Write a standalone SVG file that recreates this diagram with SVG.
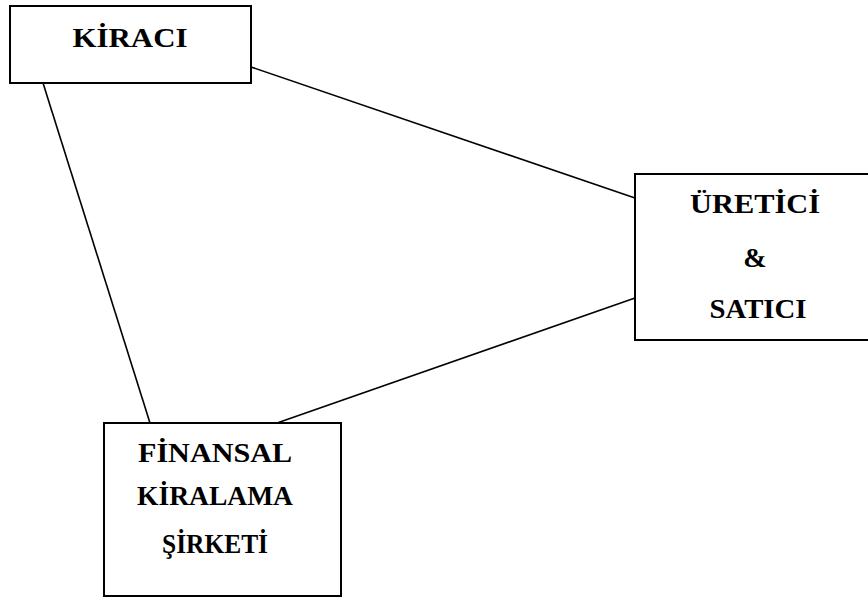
<svg xmlns="http://www.w3.org/2000/svg" width="868" height="598" viewBox="0 0 868 598">
<style>
.box{fill:#fff;stroke:#000;stroke-width:2}
.ln{stroke:#000;stroke-width:1.6;fill:none}
.t{font-family:"Liberation Serif","Times New Roman",serif;font-weight:bold;font-size:28px;fill:#000;text-anchor:middle}
</style>
<rect width="868" height="598" fill="#fff"/>
<g id="connectors">
<line class="ln" x1="251" y1="67" x2="635" y2="198"/>
<line class="ln" x1="43" y1="83" x2="150" y2="423"/>
<line class="ln" x1="277" y1="423" x2="635" y2="298"/>
</g>
<g id="kiraci">
<rect class="box" x="10" y="6" width="241" height="77"/>
<text class="t" x="130" y="47" textLength="115" lengthAdjust="spacingAndGlyphs">KİRACI</text>
</g>
<g id="uretici">
<rect class="box" x="635" y="174" width="245" height="166"/>
<text class="t" x="755" y="213" textLength="130" lengthAdjust="spacingAndGlyphs">ÜRETİCİ</text>
<text class="t" x="755" y="267">&amp;</text>
<text class="t" x="758" y="318" textLength="97" lengthAdjust="spacingAndGlyphs">SATICI</text>
</g>
<g id="finansal">
<rect class="box" x="104" y="423" width="237" height="173"/>
<text class="t" x="215" y="462" textLength="154" lengthAdjust="spacingAndGlyphs">FİNANSAL</text>
<text class="t" x="215" y="505" textLength="156" lengthAdjust="spacingAndGlyphs">KİRALAMA</text>
<text class="t" x="215" y="553" textLength="106" lengthAdjust="spacingAndGlyphs">ŞİRKETİ</text>
</g>
</svg>
